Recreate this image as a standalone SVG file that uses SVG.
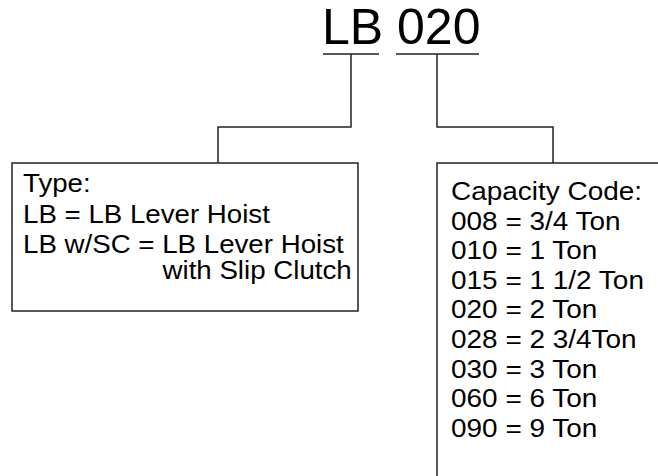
<svg xmlns="http://www.w3.org/2000/svg" width="658" height="476" viewBox="0 0 658 476">
<style>
.ln{fill:none;stroke:#222;stroke-width:1.5}
.bx{fill:#fff;stroke:#222;stroke-width:1.5}
.t{font-family:"Liberation Sans",Arial,sans-serif;font-size:26px;fill:#000}
.title{font-family:"Liberation Sans",Arial,sans-serif;font-size:50px;fill:#000}
</style>
<rect width="658" height="476" fill="#fff"/>
<g id="title">
<text class="title" x="322" y="44">LB 020</text>
</g>
<g id="connectors">
<path class="ln" d="M323,54H379M396,54H479"/>
<path class="ln" d="M351,54V127H218V163"/>
<path class="ln" d="M437,54V127H553V163"/>
</g>
<g id="type-box">
<rect class="bx" x="12" y="163" width="346" height="148"/>
<g transform="translate(23,0) scale(1.065,1)">
<text class="t" x="0" y="192">Type:</text>
<text class="t" x="0" y="223">LB = LB Lever Hoist</text>
<text class="t" x="0" y="253">LB w/SC = LB Lever Hoist</text>
<text class="t" x="131" y="279">with Slip Clutch</text>
</g>
</g>
<g id="capacity-box">
<rect class="bx" x="437" y="163" width="240" height="330"/>
<g transform="translate(451,0) scale(1.075,1)">
<text class="t" x="0" y="200">Capacity Code:</text>
<text class="t" x="0" y="229.6">008 = 3/4 Ton</text>
<text class="t" x="0" y="259.2">010 = 1 Ton</text>
<text class="t" x="0" y="288.8">015 = 1 1/2 Ton</text>
<text class="t" x="0" y="318.4">020 = 2 Ton</text>
<text class="t" x="0" y="348">028 = 2 3/4Ton</text>
<text class="t" x="0" y="377.6">030 = 3 Ton</text>
<text class="t" x="0" y="407.2">060 = 6 Ton</text>
<text class="t" x="0" y="436.8">090 = 9 Ton</text>
</g>
</g>
</svg>
